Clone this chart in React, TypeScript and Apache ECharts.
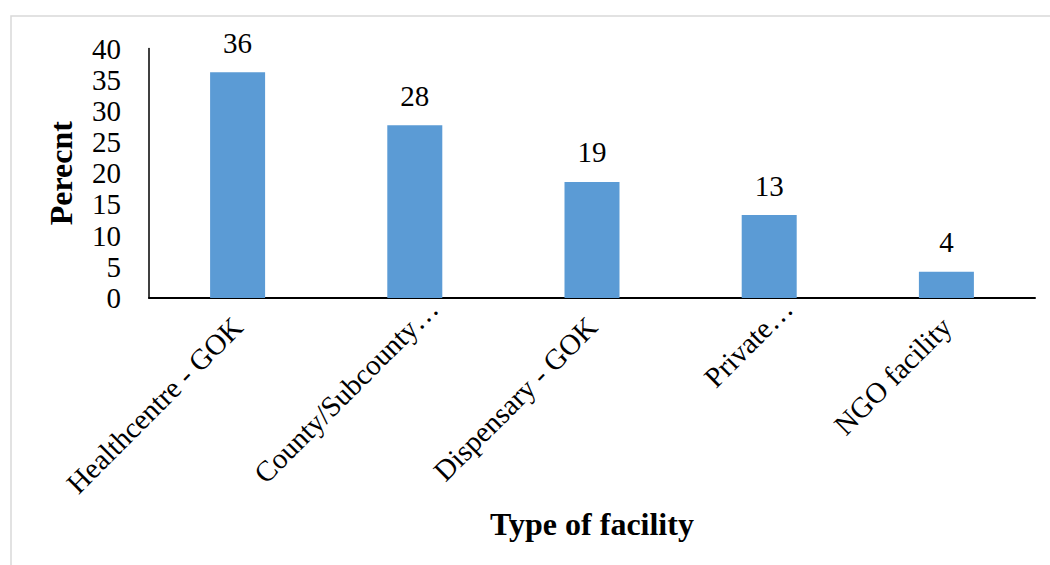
import React, { useEffect, useRef } from "react";
import * as echarts from "echarts";

const categories = [
  "Healthcentre - GOK",
  "County/Subcounty…",
  "Dispensary - GOK",
  "Private…",
  "NGO facility",
];
const percents = [36.2, 27.7, 18.6, 13.3, 4.2];
const yTicks = { min: 0, max: 40, interval: 5 };
const yAxisName = "Perecnt";
const xAxisName = "Type of facility";

const FONT = '"Liberation Serif", "Times New Roman", serif';

export default function App() {
  const ref = useRef<HTMLDivElement>(null);
  useEffect(() => {
    if (!ref.current) return;
    const chart = echarts.init(ref.current, null, { renderer: "svg" });
    chart.setOption({
      animation: false,
      backgroundColor: "#ffffff",
      textStyle: { fontFamily: FONT, color: "#000" },
      graphic: [
        {
          type: "rect",
          shape: { x: 11, y: 16, width: 1200, height: 700 },
          style: { fill: "none", stroke: "#d9d9d9", lineWidth: 1.5 },
          silent: true,
        },
      ],
      grid: { left: 149, right: 15, top: 48.5, bottom: 267, containLabel: false },
      xAxis: {
        type: "category",
        data: categories,
        axisLine: { show: true, lineStyle: { color: "#000", width: 2 } },
        axisTick: { show: false },
        axisLabel: {
          rotate: 45,
          interval: 0,
          fontSize: 29,
          fontFamily: FONT,
          color: "#000",
          margin: 24,
          formatter: (v: string) => (v.endsWith("…") ? `{t|${v}}` : `{n|${v}}`),
          rich: {
            n: { fontSize: 29, fontFamily: FONT, color: "#000" },
            t: { fontSize: 29, fontFamily: FONT, color: "#000", padding: [0, -26, 0, 0] },
          },
        },
        name: xAxisName,
        nameLocation: "middle",
        nameGap: 210,
        nameTextStyle: { fontSize: 32, fontWeight: "bold", fontFamily: FONT, color: "#000" },
      },
      yAxis: {
        type: "value",
        min: yTicks.min,
        max: yTicks.max,
        interval: yTicks.interval,
        axisLine: { show: true, lineStyle: { color: "#000", width: 1.5 } },
        axisTick: { show: false },
        splitLine: { show: false },
        axisLabel: { fontSize: 29, fontFamily: FONT, color: "#000", margin: 28 },
        name: yAxisName,
        nameLocation: "middle",
        nameGap: 72,
        nameRotate: 90,
        nameTextStyle: { fontSize: 32, fontWeight: "bold", fontFamily: FONT, color: "#000" },
      },
      series: [
        {
          type: "bar",
          data: percents,
          barWidth: 55,
          itemStyle: { color: "#5B9BD5" },
          label: {
            show: true,
            position: "top",
            distance: 15,
            fontSize: 29,
            fontFamily: FONT,
            color: "#000",
            formatter: (p: any) => String(Math.round(p.value)),
          },
        },
      ],
    });
    return () => chart.dispose();
  }, []);
  return (
    <div
      ref={ref}
      style={{ position: "fixed", left: 0, top: 0, width: 1050, height: 565 }}
    />
  );
}
